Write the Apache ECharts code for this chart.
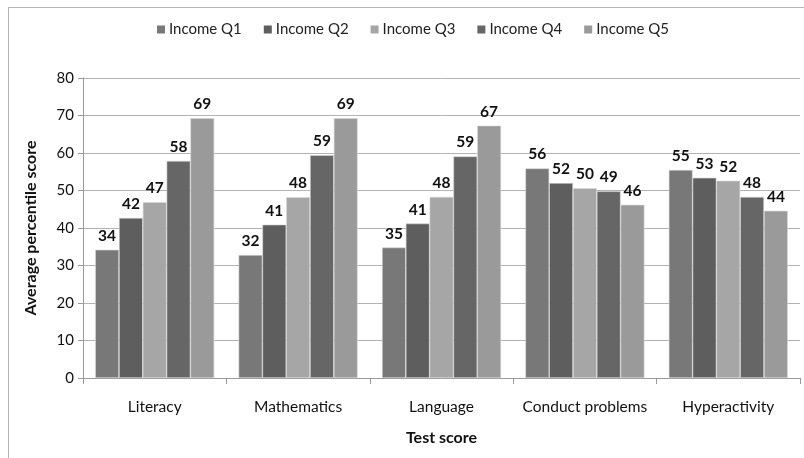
<!DOCTYPE html>
<html>
<head>
<meta charset="utf-8">
<script src="https://cdn.jsdelivr.net/npm/echarts@6/dist/echarts.min.js"></script>
<style>
  html, body { margin: 0; padding: 0; background: #fff; }
  #frame { position: absolute; left: 8px; top: 7px; width: 900px; height: 500px; border: 1px solid #b5b5b5; }
  #chart { position: absolute; left: 0; top: 0; width: 804px; height: 458px; }
</style>
</head>
<body>
<div id="frame"></div>
<div id="chart"></div>
<script>
const categories = ["Literacy", "Mathematics", "Language", "Conduct problems", "Hyperactivity"];
const seriesNames = ["Income Q1", "Income Q2", "Income Q3", "Income Q4", "Income Q5"];
const q1 = [34.2, 32.8, 34.8, 55.9, 55.5];
const q2 = [42.7, 40.9, 41.2, 52.0, 53.4];
const q3 = [46.9, 48.2, 48.3, 50.6, 52.6];
const q4 = [57.9, 59.4, 59.1, 49.8, 48.3];
const q5 = [69.3, 69.3, 67.3, 46.2, 44.6];
const q1Labels = ["34", "32", "35", "56", "55"];
const q2Labels = ["42", "41", "41", "52", "53"];
const q3Labels = ["47", "48", "48", "50", "52"];
const q4Labels = ["58", "59", "59", "49", "48"];
const q5Labels = ["69", "69", "67", "46", "44"];
const colors = ["#787878", "#5e5e5e", "#a6a6a6", "#666666", "#9a9a9a"];

const values = [q1, q2, q3, q4, q5];
const labels = [q1Labels, q2Labels, q3Labels, q4Labels, q5Labels];
const font = "Lato, 'DejaVu Sans', sans-serif";

const chart = echarts.init(document.getElementById("chart"));
chart.setOption({
  animation: false,
  textStyle: { fontFamily: font },
  legend: {
    top: 17,
    left: 152,
    itemWidth: 8,
    itemHeight: 8,
    itemGap: 22,
    icon: "rect",
    itemStyle: { borderWidth: 0 },
    textStyle: { fontSize: 15, color: "#222", fontFamily: font, padding: [0, 0, 0, -1] },
    data: seriesNames,
  },
  grid: { left: 83, right: 4, top: 78, bottom: 80 },
  xAxis: {
    type: "category",
    data: categories,
    name: "Test score",
    nameLocation: "middle",
    nameGap: 52,
    nameTextStyle: { fontSize: 16, fontWeight: "bold", color: "#111", fontFamily: font },
    axisLine: { lineStyle: { color: "#9a9a9a" } },
    axisTick: { show: true, length: 6, lineStyle: { color: "#9a9a9a" } },
    axisLabel: { interval: 0, fontSize: 15.5, color: "#111", margin: 21, fontFamily: font },
  },
  yAxis: {
    type: "value",
    min: 0,
    max: 80,
    interval: 10,
    name: "Average percentile score",
    nameLocation: "middle",
    nameGap: 44,
    nameTextStyle: { fontSize: 16, fontWeight: "bold", color: "#111", fontFamily: font },
    axisLine: { show: true, lineStyle: { color: "#9a9a9a" } },
    axisTick: { show: true, length: 5, lineStyle: { color: "#9a9a9a" } },
    axisLabel: { fontSize: 15, color: "#111", margin: 9, fontFamily: font },
    splitLine: { lineStyle: { color: "#b3b3b3" } },
  },
  series: seriesNames.map((name, i) => ({
    name,
    type: "bar",
    data: values[i],
    barGap: "0%",
    barCategoryGap: "17%",
    itemStyle: { color: colors[i], borderColor: "#d8d8d8", borderWidth: 0.6 },
    label: {
      show: true,
      position: "top",
      distance: 6,
      fontSize: 15.5,
      fontWeight: "bold",
      color: "#111",
      fontFamily: font,
      formatter: (p) => labels[i][p.dataIndex],
    },
  })),
});
</script>
</body>
</html>
